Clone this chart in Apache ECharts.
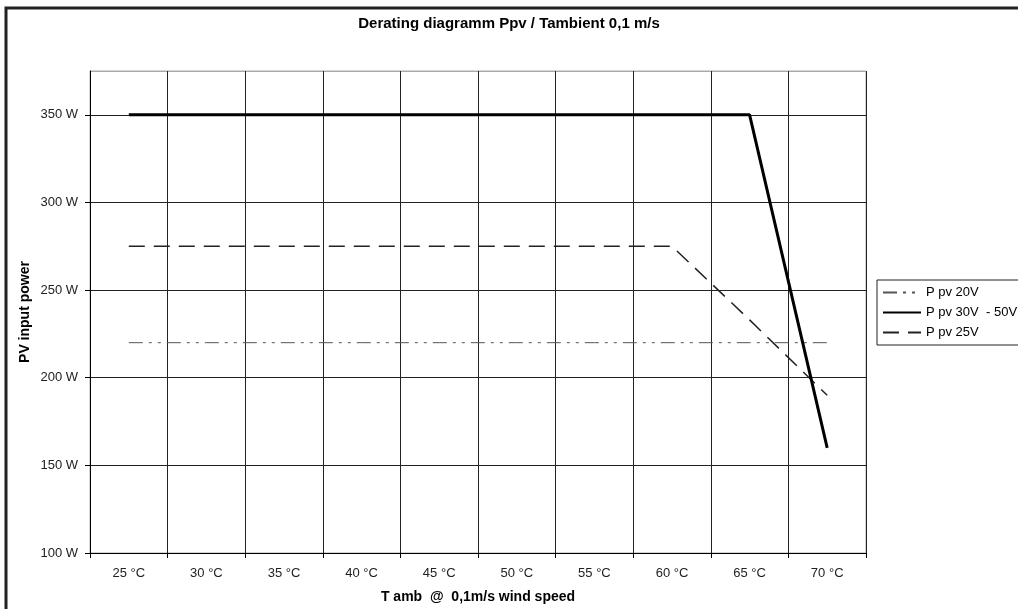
<!DOCTYPE html>
<html>
<head>
<meta charset="utf-8">
<script src="https://cdn.jsdelivr.net/npm/echarts@6/dist/echarts.min.js"></script>
<style>
html,body{margin:0;padding:0;background:#fff;}
#main{width:1018px;height:609px;}
</style>
</head>
<body>
<div id="main"></div>
<script>
const categories = ['25 °C','30 °C','35 °C','40 °C','45 °C','50 °C','55 °C','60 °C','65 °C','70 °C'];
const ppv20 = [220,220,220,220,220,220,220,220,220,220];
const ppv30_50 = [350,350,350,350,350,350,350,350,350,160];
const ppv25 = [275,275,275,275,275,275,275,275,233,190];
const seriesNames = ['P pv 20V','P pv 30V  - 50V','P pv 25V'];

const FONT = 'Liberation Sans, Arial, sans-serif';
const chart = echarts.init(document.getElementById('main'), null, {renderer:'canvas'});
chart.setOption({
  animation:false,
  backgroundColor:'#fff',
  textStyle:{fontFamily:FONT},
  title:{
    text:'Derating diagramm Ppv / Tambient 0,1 m/s',
    left:'center', top:11,
    textStyle:{fontFamily:FONT,fontSize:15,fontWeight:'bold',color:'#000'}
  },
  graphic:[{
    type:'rect', silent:true, z:-1,
    shape:{x:6,y:8,width:1100,height:700},
    style:{fill:'none',stroke:'#222',lineWidth:3}
  }],
  legend:{
    orient:'vertical',
    left:877, top:280,
    padding:[6,6,6,5],
    itemGap:7,
    itemWidth:38, itemHeight:13,
    borderColor:'#222', borderWidth:1,
    itemStyle:{opacity:0},
    textStyle:{fontFamily:FONT,fontSize:13,color:'#000'},
    data:seriesNames
  },
  grid:{left:90,right:152,top:71,bottom:52,show:true,borderColor:'#aaa',borderWidth:1},
  xAxis:{
    type:'category',
    data:categories,
    boundaryGap:true,
    name:'T amb  @  0,1m/s wind speed',
    nameLocation:'middle',
    nameGap:37,
    nameTextStyle:{fontFamily:FONT,fontSize:14,fontWeight:'bold',color:'#000'},
    axisLine:{lineStyle:{color:'#000',width:1}},
    axisTick:{show:true,length:5,alignWithLabel:false,lineStyle:{color:'#000'}},
    axisLabel:{fontFamily:FONT,fontSize:13,color:'#222',margin:14},
    splitLine:{show:true,lineStyle:{color:'#222',width:1}}
  },
  yAxis:{
    type:'value',
    min:100, max:375, interval:50,
    name:'PV input power',
    nameLocation:'middle',
    nameGap:58,
    nameMoveOverlap:false,
    nameTextStyle:{fontFamily:FONT,fontSize:14,fontWeight:'bold',color:'#000'},
    axisLine:{show:true,lineStyle:{color:'#000',width:1}},
    axisTick:{show:true,length:5,lineStyle:{color:'#000'}},
    axisLabel:{fontFamily:FONT,fontSize:13,color:'#222',margin:12,showMaxLabel:false,
      formatter:function(v){return v%50===0 ? v+' W' : '';}},
    splitLine:{show:true,lineStyle:{color:['#222','#222','#222','#222','#222','#222','#aaa'],width:1}}
  },
  series:[
    {
      name:seriesNames[0], type:'line', data:ppv20, symbol:'none', z:3,
      itemStyle:{color:'#555'},
      lineStyle:{color:'#555',width:1,type:[14,6,3,6,3,6]}
    },
    {
      name:seriesNames[1], type:'line', data:ppv30_50, symbol:'none', z:5,
      itemStyle:{color:'#000'},
      lineStyle:{color:'#000',width:3,type:'solid'}
    },
    {
      name:seriesNames[2], type:'line', data:ppv25, symbol:'none', z:4,
      itemStyle:{color:'#222'},
      lineStyle:{color:'#222',width:1.5,type:[16,9]}
    }
  ]
});
</script>
</body>
</html>
